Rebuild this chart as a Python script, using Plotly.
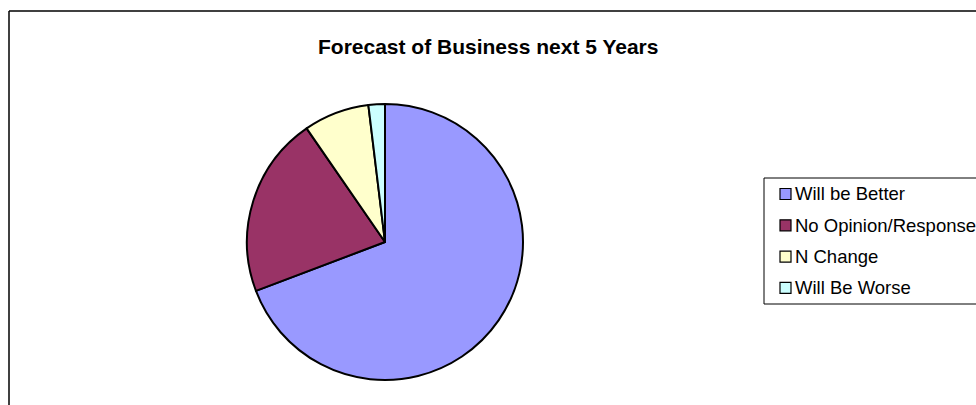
import plotly.graph_objects as go

W, H = 976, 405

labels = ["Will be Better", "No Opinion/Response", "N Change", "Will Be Worse"]
values = [36, 11, 4, 1]
colors = ["#9999FF", "#993366", "#FFFFCC", "#CCFFFF"]
title_text = "Forecast of Business next 5 Years"

def px(x):
    return x / W

def py(y):
    return 1 - y / H

fig = go.Figure()
fig.add_trace(go.Pie(
    labels=labels,
    values=values,
    marker=dict(colors=colors, line=dict(color="#000000", width=2)),
    sort=False,
    direction="clockwise",
    rotation=0,
    textinfo="none",
    showlegend=False,
    domain=dict(x=[px(247), px(523)], y=[py(380), py(104)]),
))

def hline(x0, x1, y, w):
    return dict(type="line", xref="paper", yref="paper",
                x0=px(x0), x1=px(x1), y0=py(y), y1=py(y),
                line=dict(color="#000000", width=w))

def vline(x, y0, y1, w):
    return dict(type="line", xref="paper", yref="paper",
                x0=px(x), x1=px(x), y0=py(y0), y1=py(y1),
                line=dict(color="#000000", width=w))

shapes = [
    # chart border (top and left visible)
    hline(9, 1010, 11, 1.5),
    vline(9, 11, 420, 1.5),
    # legend box (right side cut off)
    hline(764, 1010, 178, 1),
    hline(764, 1010, 304, 1),
    vline(764, 178, 304, 1),
]
annotations = [
    dict(text="<b>%s</b>" % title_text, xref="paper", yref="paper",
         x=px(488), y=py(47), xanchor="center", yanchor="middle",
         showarrow=False, font=dict(family="Liberation Sans, Arial", size=21, color="#000000")),
]
y0 = 194
step = 31.3
for i, (lab, col) in enumerate(zip(labels, colors)):
    yc = y0 + i * step
    shapes.append(dict(type="rect", xref="paper", yref="paper",
                       x0=px(780), x1=px(791), y0=py(yc + 5.5), y1=py(yc - 5.5),
                       line=dict(color="#000000", width=1.2), fillcolor=col))
    annotations.append(dict(text=lab, xref="paper", yref="paper",
                            x=px(793), y=py(yc), xanchor="left", yanchor="middle",
                            showarrow=False,
                            font=dict(family="Liberation Sans, Arial", size=18.5, color="#000000")))

fig.update_layout(
    width=W, height=H,
    margin=dict(l=0, r=0, t=0, b=0),
    paper_bgcolor="#FFFFFF",
    plot_bgcolor="#FFFFFF",
    shapes=shapes,
    annotations=annotations,
)

fig.write_html("out.html")
